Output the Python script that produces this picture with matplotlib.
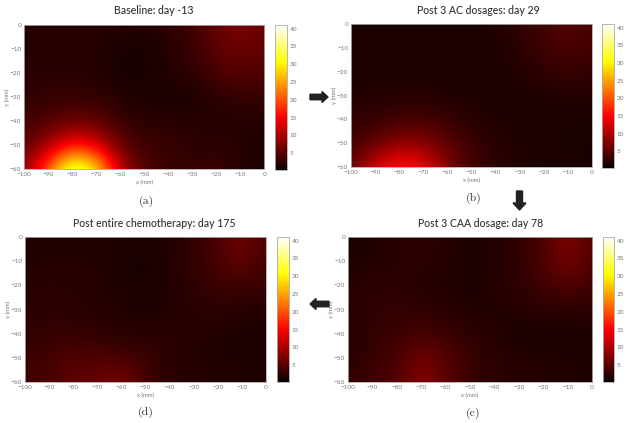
# -*- coding: utf-8 -*-
import numpy as np
import matplotlib
matplotlib.use('Agg')
import matplotlib.pyplot as plt
from matplotlib.patches import FancyArrow

# values, rows y = 0,-10..-60, columns x = -100,-90..0
x_ticks = [-100, -90, -80, -70, -60, -50, -40, -30, -20, -10, 0]
y_ticks = [0, -10, -20, -30, -40, -50, -60]
cbar_ticks = [5, 10, 15, 20, 25, 30, 35, 40]

grid_a = [[2.0, 2.0, 2.0, 2.0, 2.0, 2.1, 2.4, 3.4, 6.0, 7.5, 6.0],
          [2.0, 2.0, 2.0, 2.0, 1.3, 1.1, 2.0, 3.2, 5.5, 6.5, 5.5],
          [2.1, 2.1, 2.1, 1.9, 1.1, 1.0, 1.9, 2.6, 4.2, 5.0, 4.4],
          [2.5, 2.8, 3.2, 2.6, 1.9, 1.3, 1.5, 1.3, 2.4, 3.0, 2.8],
          [3.6, 4.5, 5.5, 5.5, 3.2, 2.2, 2.1, 2.0, 1.9, 2.0, 1.9],
          [5.5, 9.0, 16.0, 13.0, 5.5, 3.2, 3.4, 2.2, 2.5, 2.0, 1.4],
          [8.0, 21.0, 38.0, 31.0, 11.0, 4.5, 3.2, 2.8, 3.4, 2.2, 1.3]]
grid_b = [[1.5, 1.5, 1.5, 1.5, 1.5, 1.5, 1.8, 2.6, 3.8, 5.0, 4.0],
          [1.5, 1.9, 1.5, 1.5, 1.4, 1.4, 1.6, 2.3, 3.6, 4.6, 3.6],
          [1.5, 1.5, 1.5, 1.5, 1.4, 1.4, 1.5, 1.8, 2.7, 3.2, 2.7],
          [1.7, 1.8, 1.9, 1.9, 1.6, 1.5, 1.4, 1.4, 1.6, 1.8, 1.7],
          [2.6, 3.0, 3.6, 3.8, 3.2, 2.1, 1.7, 1.4, 1.4, 1.4, 1.3],
          [3.6, 5.5, 8.5, 8.0, 5.5, 3.2, 2.2, 1.6, 1.4, 1.4, 1.2],
          [5.5, 13.0, 17.0, 15.0, 7.5, 3.8, 2.3, 1.8, 1.6, 1.4, 1.2]]
grid_c = [[1.5, 1.8, 2.2, 2.6, 2.0, 1.6, 1.8, 2.8, 4.2, 8.0, 4.2],
          [1.5, 1.7, 2.1, 2.4, 1.9, 1.6, 1.8, 2.6, 4.4, 7.5, 4.2],
          [2.0, 2.6, 2.6, 2.0, 1.7, 1.6, 1.9, 2.6, 3.6, 4.6, 3.6],
          [2.1, 2.7, 2.7, 2.6, 2.1, 1.6, 1.8, 2.0, 2.5, 2.4, 2.4],
          [1.9, 2.7, 3.4, 3.8, 3.4, 2.5, 2.0, 1.2, 1.1, 1.1, 1.6],
          [2.0, 3.2, 4.0, 7.0, 5.0, 3.0, 2.4, 2.0, 1.9, 1.8, 1.6],
          [3.0, 3.6, 4.5, 8.5, 5.0, 3.1, 2.2, 2.0, 1.9, 1.8, 1.5]]
grid_d = [[1.8, 1.8, 1.8, 1.8, 1.6, 1.5, 1.9, 2.8, 4.6, 7.0, 4.2],
          [1.8, 1.8, 1.9, 1.9, 1.6, 0.9, 1.9, 2.6, 4.2, 5.8, 3.8],
          [1.9, 2.4, 2.0, 2.0, 1.6, 1.1, 1.8, 2.5, 3.4, 3.6, 3.2],
          [2.3, 2.5, 2.4, 2.0, 1.8, 1.5, 1.7, 2.3, 2.5, 1.9, 1.8],
          [2.6, 2.9, 2.9, 2.6, 2.1, 2.0, 2.4, 2.0, 1.7, 1.6, 1.6],
          [3.2, 3.8, 5.0, 4.6, 4.2, 3.2, 2.2, 1.9, 1.7, 1.7, 1.4],
          [3.8, 4.4, 5.2, 6.0, 7.5, 4.0, 2.3, 2.0, 1.9, 1.7, 1.4]]

W, H = 629, 423
fig = plt.figure(figsize=(W / 100, H / 100), dpi=100, facecolor='w')
plt.rcParams['font.family'] = ['Lato', 'DejaVu Sans']


def px_axes(x0, x1, y0, y1):
    # pixel box, y counted from the top
    return fig.add_axes([x0 / W, 1 - y1 / H, (x1 - x0) / W, (y1 - y0) / H])


def panel(grid, box, cbox, title, title_x, title_y, cap, cap_x, cap_y):
    ax = px_axes(*box)
    im = ax.imshow(np.array(grid), cmap='hot', vmin=0.3, vmax=41, aspect='auto',
                   interpolation='bicubic', extent=[-105, 5, -65, 5])
    ax.set_xlim(-100, 0)
    ax.set_ylim(-60, 0)
    ax.set_xticks(x_ticks)
    ax.set_yticks(y_ticks)
    ax.tick_params(labelsize=4.6, length=0, pad=2, labelcolor='#777777')
    ax.set_xlabel('x (mm)', fontsize=4.2, color='#777777', labelpad=2)
    ax.set_ylabel('y (mm)', fontsize=4.2, color='#777777', labelpad=0)
    for s in ax.spines.values():
        s.set_color('#aaaaaa')
        s.set_linewidth(0.6)

    cax = px_axes(*cbox)
    cb = fig.colorbar(im, cax=cax, ticks=cbar_ticks)
    cb.ax.tick_params(labelsize=4.6, length=0, pad=2, labelcolor='#777777')
    cb.outline.set_edgecolor('#aaaaaa')
    cb.outline.set_linewidth(0.6)

    fig.text(title_x / W, 1 - title_y / H, title, fontsize=7.6, color='#333333',
             ha='center', va='center', fontweight='medium')
    fig.text(cap_x / W, 1 - cap_y / H, cap, fontsize=8.5, color='#333333',
             ha='center', va='center', family='cmr10')


panel(grid_a, (24, 264.5, 25, 169), (275, 287, 25, 170),
      'Baseline: day -13', 154, 11, '(a)', 146, 201)
panel(grid_b, (351, 592, 24, 167), (602, 614, 24, 168),
      'Post 3 AC dosages: day 29', 478, 10, '(b)', 474, 198)
panel(grid_c, (348, 592, 237, 382), (603, 614, 237, 382),
      'Post 3 CAA dosage: day 78', 481, 223, '(c)', 473, 413)
panel(grid_d, (25, 266, 237, 382), (277, 289, 237, 382),
      'Post entire chemotherapy: day 175', 154, 223, '(d)', 146, 412)

# arrows between panels
arrow_kw = dict(width=5.5 / H, head_width=11 / H, length_includes_head=True,
                color='#222222', transform=fig.transFigure)
fig.add_artist(FancyArrow(310 / W, 1 - 97 / H, 18 / W, 0, head_length=6 / W, **arrow_kw))
fig.add_artist(FancyArrow(329 / W, 1 - 304 / H, -19 / W, 0, head_length=6 / W, **arrow_kw))
fig.add_artist(FancyArrow(519.5 / W, 1 - 191 / H, 0, -19 / H, head_length=7 / H,
                          width=6 / W, head_width=13 / W, length_includes_head=True,
                          color='#222222', transform=fig.transFigure))

fig.savefig('out.png', dpi=100)
